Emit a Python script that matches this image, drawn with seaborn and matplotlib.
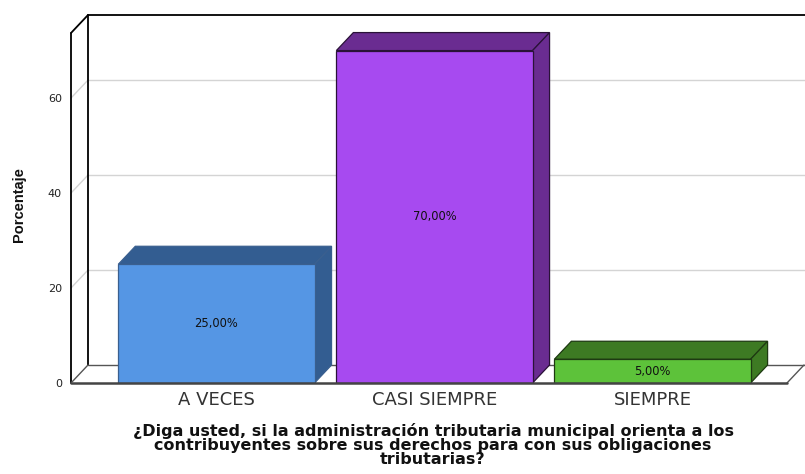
import numpy as np
import pandas as pd
import matplotlib
matplotlib.use("Agg")
import matplotlib.pyplot as plt
import seaborn as sns
from matplotlib.patches import Polygon

categories = ["A VECES", "CASI SIEMPRE", "SIEMPRE"]
percentages = [25.0, 70.0, 5.0]
bar_labels = ["25,00%", "70,00%", "5,00%"]
yticks = [0, 20, 40, 60]
title = ("¿Diga usted, si la administración tributaria municipal orienta a los\n"
         "contribuyentes sobre sus derechos para con sus obligaciones\n"
         "tributarias?")
front_colors = ["#5596E4", "#A74AF0", "#5DC23A"]
side_colors = ["#335D91", "#6A2C91", "#3D7A23"]
edge_colors = ["#3A5F8F", "#2A1238", "#1E3A12"]

sns.set_theme(style="white")
plt.rcParams["font.family"] = ["DejaVu Sans"]

W, H = 805, 474
fig = plt.figure(figsize=(W / 100, H / 100), dpi=100)
ax = fig.add_axes([71 / W, (H - 383) / H, (787 - 71) / W, 350 / H])

df = pd.DataFrame({"cat": categories, "pct": percentages})
sns.barplot(data=df, x="cat", y="pct", hue="cat", palette=front_colors,
            width=0.9, saturation=1, ax=ax, legend=False, zorder=3)

xl, xr = -0.667, 2.617
ymax = 73.7
ax.set_xlim(xl, xr)
ax.set_ylim(0, ymax)
dx = 17 / 716 * (xr - xl)
dy = 18 / 350 * ymax

# back wall & floor decorations
grid_c = "#d4d4d4"
for v in yticks[1:]:
    ax.plot([xl + dx, xr + dx + 0.2], [v + dy, v + dy], color=grid_c, lw=1, clip_on=False, zorder=1)
    ax.plot([xl, xl + dx], [v, v + dy], color=grid_c, lw=1, clip_on=False, zorder=1)
ax.plot([xl + dx, xl + dx], [dy, ymax + dy], color="black", lw=1.3, clip_on=False, zorder=1.5)
ax.plot([xl + dx, xr + dx + 0.2], [ymax + dy, ymax + dy], color="black", lw=1.3, clip_on=False, zorder=1.5)
ax.plot([xl, xl + dx], [ymax, ymax + dy], color="black", lw=1.3, clip_on=False, zorder=1.5)
ax.plot([xl, xl], [0, ymax], color="black", lw=1.3, clip_on=False, zorder=1.5)
ax.plot([xl + dx, xr + dx + 0.2], [dy, dy], color="#555555", lw=1, clip_on=False, zorder=1.5)
ax.plot([xl, xl + dx], [0, dy], color="#555555", lw=1, clip_on=False, zorder=1.5)
ax.plot([xr, xr + dx], [0, dy], color="#555555", lw=1, clip_on=False, zorder=1.5)
ax.plot([xl, xr], [0, 0], color="#444444", lw=1.8, clip_on=False, zorder=5)

for i, p in enumerate(ax.patches):
    x0, w, h = p.get_x(), p.get_width(), p.get_height()
    p.set_edgecolor(edge_colors[i])
    p.set_linewidth(0.9)
    top = Polygon([(x0, h), (x0 + dx, h + dy), (x0 + w + dx, h + dy), (x0 + w, h)],
                  closed=True, facecolor=side_colors[i], edgecolor=edge_colors[i],
                  lw=0.9, zorder=2.5, clip_on=False)
    side = Polygon([(x0 + w, 0), (x0 + w, h), (x0 + w + dx, h + dy), (x0 + w + dx, dy)],
                   closed=True, facecolor=side_colors[i], edgecolor=edge_colors[i],
                   lw=0.9, zorder=2.5, clip_on=False)
    ax.add_patch(top)
    ax.add_patch(side)
    ax.text(x0 + w / 2, h / 2, bar_labels[i], ha="center", va="center",
            fontsize=8.3, color="#111111", zorder=6)

for s in ax.spines.values():
    s.set_visible(False)
ax.grid(False)
ax.set_xlabel("")
ax.set_ylabel("")
ax.set_yticks(yticks)
ax.set_yticklabels([str(t) for t in yticks])
ax.tick_params(axis="y", length=0, pad=6.5, labelsize=8, labelcolor="#222222")
ax.tick_params(axis="x", length=0, pad=6, labelsize=13, labelcolor="#333333")

fig.text(19 / W, 1 - 205 / H, "Porcentaje", rotation=90, ha="center", va="center",
         fontsize=10.5, fontweight="bold", color="#111111",
         family=["Liberation Sans", "DejaVu Sans"])
fig.text(433 / W, 1 - 423 / H, title, ha="center", va="top", fontsize=11.5,
         fontweight="bold", color="#111111", linespacing=0.9)

fig.savefig("out.png", dpi=100)
